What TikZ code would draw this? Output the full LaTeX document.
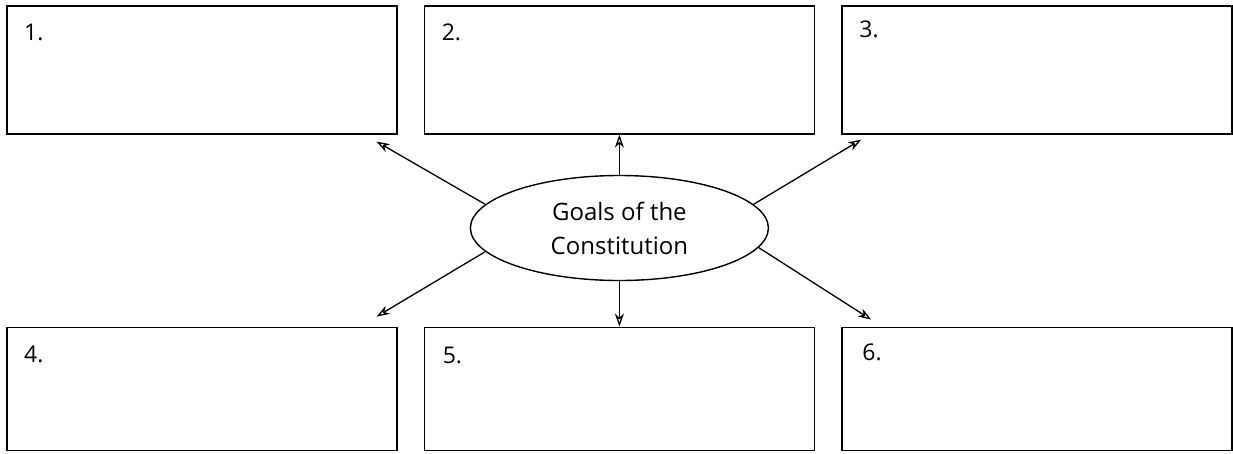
\documentclass[tikz,border=0pt]{standalone}
\usepackage{fontspec}
\setmainfont{Open Sans}
\usepackage{tikz}
\usetikzlibrary{positioning,shapes.geometric,arrows.meta}

\begin{document}
\begin{tikzpicture}[%
x=1pt,y=1pt,%
trans/.style={-{Stealth[open,length=13pt,width=9pt,inset=4pt]},line width=1.3pt},%
goalbox/.style={draw,line width=1.6pt,minimum width=390pt,minimum height=128pt,inner sep=0pt},%
num/.style={anchor=north west,inner sep=0pt,font=\fontsize{23}{28}\selectfont},%
node distance=192pt and 26pt,%
  ]
    \useasboundingbox (0,0) rectangle (1233,-453);

    \node[goalbox, anchor=north west] (b1) at (6,-5) {};

    \node[goalbox] (b2) [right=of b1] {};

    \node[goalbox] (b3) [right=of b2] {};

    \node[goalbox, minimum height=123pt] (b4) [below=of b1] {};

    \node[goalbox, minimum height=123pt] (b5) [below=of b2] {};

    \node[goalbox, minimum height=123pt] (b6) [below=of b3] {};

    \node[num] (n1) at ([shift={(18pt,-19pt)}]b1.north west) {1.};
    \node[num] (n2) at ([shift={(18pt,-19pt)}]b2.north west) {2.};
    \node[num] (n3) at ([shift={(18pt,-16pt)}]b3.north west) {3.};
    \node[num] (n4) at ([shift={(18pt,-19pt)}]b4.north west) {4.};
    \node[num] (n5) at ([shift={(19pt,-20pt)}]b5.north west) {5.};
    \node[num] (n6) at ([shift={(21pt,-17pt)}]b6.north west) {6.};

    \coordinate (mid) at (0,-228);
    \node[ellipse, draw, line width=1.4pt, minimum width=298pt, minimum height=105pt,
          inner sep=0pt, align=center, font=\fontsize{24}{34}\selectfont]
          (goal) at (b2 |- mid) {Goals of the\\Constitution};

    % free ends of the slanted arrows
    \coordinate (t1) at ([shift={(-21pt,-7pt)}]b1.south east);
    \coordinate (t3) at ([shift={(20pt,-5pt)}]b3.south west);
    \coordinate (t4) at ([shift={(-21pt,10pt)}]b4.north east);
    \coordinate (t6) at ([shift={(30pt,7pt)}]b6.north west);

        \draw[trans] (goal.170) -- (t1);

        \draw[trans] (goal) -- (b2);

        \draw[trans] (goal.10) -- (t3);

        \draw[trans] (goal.190) -- (t4);

        \draw[trans] (goal) -- (b5);

        \draw[trans] (goal.352) -- (t6);
  \end{tikzpicture}
\end{document}
